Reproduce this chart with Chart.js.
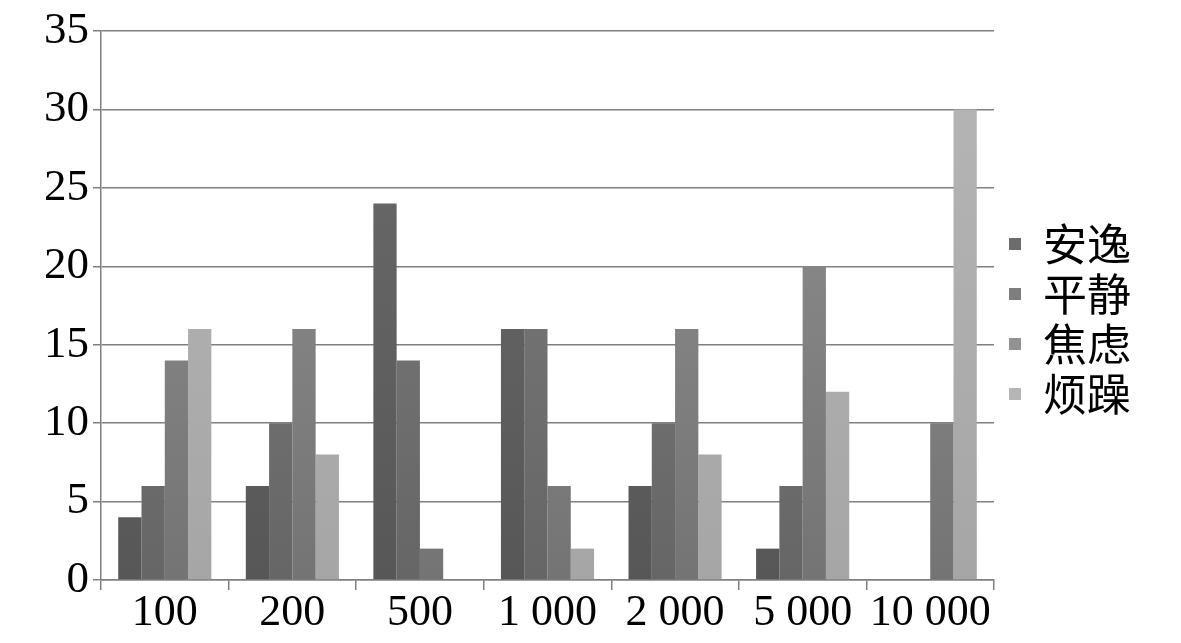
<!DOCTYPE html>
<html lang="zh">
<head>
<meta charset="UTF-8">
<title>Bar chart</title>
<script src="https://cdn.jsdelivr.net/npm/chart.js"></script>
<style>
    html, body { margin: 0; padding: 0; background: #fff; }
    #wrap { width: 1181px; height: 643px; }
</style>
</head>
<body>
<div id="wrap"><canvas id="chart" width="1181" height="643"></canvas></div>
<script>
// categories and series
const categories = ['100', '200', '500', '1 000', '2 000', '5 000', '10 000'];
const seriesNames = ['安逸', '平静', '焦虑', '烦躁'];
const anyi   = [4, 6, 24, 16, 6, 2, 0];
const pingjing = [6, 10, 14, 16, 10, 6, 0];
const jiaolv = [14, 16, 2, 6, 16, 20, 10];
const fanzao = [16, 8, 0, 2, 8, 12, 30];
const yTicks = [0, 5, 10, 15, 20, 25, 30, 35];

// bottom / top shades of each series
const shades = [
    ['#575757', '#6c6c6c'],
    ['#666666', '#7e7e7e'],
    ['#747474', '#929292'],
    ['#a6a6a6', '#b6b6b6']
];

function shade(i) {
    return function (ctx) {
        const area = ctx.chart.chartArea;
        if (!area) return shades[i][0];
        const g = ctx.chart.ctx.createLinearGradient(0, area.bottom, 0, area.top);
        g.addColorStop(0, shades[i][0]);
        g.addColorStop(1, shades[i][1]);
        return g;
    };
}

const values = [anyi, pingjing, jiaolv, fanzao];
const datasets = seriesNames.map((name, i) => ({
    label: name,
    data: values[i],
    backgroundColor: shade(i),
    borderWidth: 0,
    categoryPercentage: 0.73,
    barPercentage: 1
}));

const serif = '"Liberation Serif", "Times New Roman", serif';

// leave a little gap between the plot and the legend
const legendGap = {
    id: 'legendGap',
    afterLayout(chart) {
        const lg = chart.legend;
        if (!lg) return;
        lg.left += 9;
        lg.right += 9;
        lg.top -= 8;
        lg.bottom -= 8;
    }
};

new Chart(document.getElementById('chart'), {
    type: 'bar',
    data: { labels: categories, datasets: datasets },
    plugins: [legendGap],
    options: {
        responsive: false,
        animation: false,
        layout: { padding: { top: 11, right: 49, left: 0, bottom: 0 } },
        plugins: {
            tooltip: { enabled: false },
            legend: {
                position: 'right',
                labels: {
                    boxWidth: 12,
                    boxHeight: 12,
                    padding: 6,
                    color: '#000',
                    font: { family: '"Noto Sans CJK SC", sans-serif', size: 44 },
                    generateLabels: chart => seriesNames.map((n, i) => ({
                        text: n,
                        fillStyle: shades[i][1],
                        strokeStyle: shades[i][1],
                        lineWidth: 0,
                        datasetIndex: i
                    }))
                }
            }
        },
        scales: {
            x: {
                afterFit: axis => { axis.height = 63; },
                grid: {
                    display: true,
                    drawOnChartArea: false,
                    drawTicks: true,
                    tickLength: 10,
                    offset: true,
                    color: '#808080',
                    lineWidth: 1.5
                },
                border: { color: '#808080', width: 1.5 },
                ticks: {
                    color: '#000',
                    padding: -3,
                    maxRotation: 0,
                    autoSkip: false,
                    font: { family: serif, size: 44 }
                }
            },
            y: {
                min: 0,
                max: 35,
                afterBuildTicks: axis => { axis.ticks = yTicks.map(v => ({ value: v })); },
                afterFit: axis => { axis.width = 101; },
                grid: {
                    color: '#808080',
                    lineWidth: 1.5,
                    tickLength: 8
                },
                border: { color: '#808080', width: 1.5 },
                ticks: {
                    color: '#000',
                    padding: 4,
                    font: { family: serif, size: 45 }
                }
            }
        }
    }
});
</script>
</body>
</html>
